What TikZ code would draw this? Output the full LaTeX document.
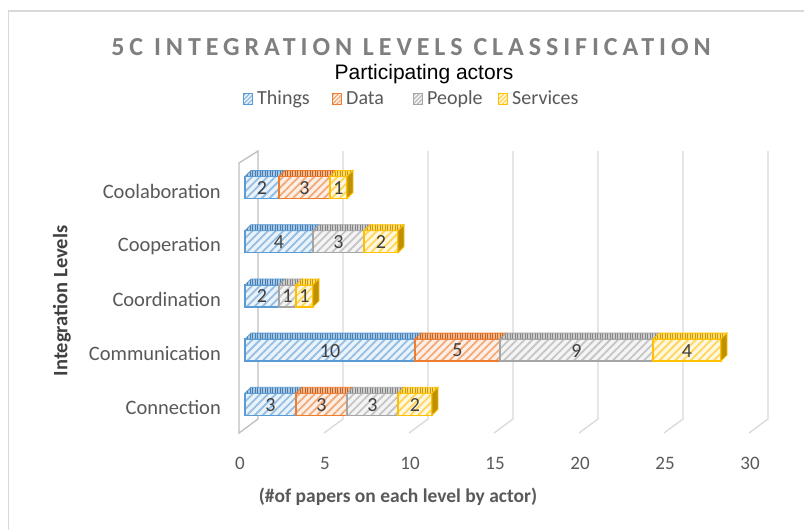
\documentclass[tikz,border=0pt]{standalone}
\usepackage{fontspec}
\setmainfont{Carlito}
\newfontfamily\arialfont{Liberation Sans}
\newfontfamily\titlefont[LetterSpace=19]{Carlito}
\usetikzlibrary{patterns.meta}
\definecolor{cThings}{HTML}{5B9BD5}
\definecolor{cData}{HTML}{ED7D31}
\definecolor{cPeople}{HTML}{A5A5A5}
\definecolor{cServ}{HTML}{FFC000}
\definecolor{txtgray}{HTML}{595959}
\definecolor{valgray}{HTML}{404040}
\definecolor{gridgray}{HTML}{D9D9D9}
\definecolor{wallgray}{HTML}{BFBFBF}
\definecolor{titlegray}{HTML}{7F7F7F}
\tikzset{
  gridline/.style={draw=gridgray, line width=1.3pt},
  wallline/.style={draw=wallgray, line width=1.3pt},
  catlabel/.style={anchor=base east, text=txtgray, font=\fontsize{20.5}{24}\selectfont, inner sep=0pt},
  ticklabel/.style={text=txtgray, font=\fontsize{19}{22}\selectfont, inner sep=0pt},
  vallabel/.style={text=valgray, font=\fontsize{20}{23}\selectfont, inner sep=0pt},
  legtext/.style={anchor=base west, text=txtgray, font=\fontsize{20}{23}\selectfont, inner sep=0pt},
}
% #1 colour, #2 v0, #3 v1, #4 y centre, #5 label, #6 node name
\newcommand\barseg[6]{%
  \pgfmathsetmacro\xa{245+17*#2}%
  \pgfmathsetmacro\xb{245+17*#3}%
  \fill[#1!12] (\xa,#4-11) rectangle (\xb,#4+11);
  \fill[pattern={Lines[angle=45,distance=5.5pt,line width=1.8pt]}, pattern color=#1!65] (\xa,#4-11) rectangle (\xb,#4+11);
  \draw[#1, line width=1.3pt] (\xa,#4-11) rectangle (\xb,#4+11);
  \fill[#1!55] (\xa,#4-11) -- (\xb,#4-11) -- (\xb+6,#4-17) -- (\xa+6,#4-17) -- cycle;
  \fill[pattern={Lines[angle=90,distance=2.5pt,line width=0.8pt]}, pattern color=#1!80!black] (\xa,#4-11) -- (\xb,#4-11) -- (\xb+6,#4-17) -- (\xa+6,#4-17) -- cycle;
  \draw[#1, line width=0.8pt] (\xa,#4-11) -- (\xb,#4-11) -- (\xb+6,#4-17) -- (\xa+6,#4-17) -- cycle;
  \node[vallabel] (#6) at ({(\xa+\xb)/2},#4+0.5) {#5};
}
% #1 colour, #2 v1, #3 y centre
\newcommand\barside[3]{%
  \pgfmathsetmacro\xb{245+17*#2}%
  \fill[#1!75!black] (\xb,#3-11) -- (\xb+6,#3-17) -- (\xb+6,#3+5) -- (\xb,#3+11) -- cycle;
  \draw[#1, line width=0.8pt] (\xb,#3-11) -- (\xb+6,#3-17) -- (\xb+6,#3+5) -- (\xb,#3+11) -- cycle;
}
% legend marker: #1 colour, #2 x centre
\newcommand\legmark[2]{%
  \fill[#1!12] (#2-4.5,93.5) rectangle (#2+4.5,104.5);
  \fill[pattern={Lines[angle=45,distance=3pt,line width=1.1pt]}, pattern color=#1!75] (#2-4.5,93.5) rectangle (#2+4.5,104.5);
  \draw[#1, line width=1.1pt] (#2-4.5,93.5) rectangle (#2+4.5,104.5);
}
\begin{document}
\begin{tikzpicture}[x=1pt,y=-1pt]
\useasboundingbox (0,0) rectangle (804,530);
\fill[white] (0,0) rectangle (804,530);
% chart border (top and left visible)
\draw[draw=gridgray, line width=1.2pt] (8.3,530) -- (8.3,11) -- (804,11);

% title
\node[text=titlegray, font=\titlefont\bfseries\fontsize{26}{31}\selectfont, inner sep=0pt] (title) at (411,47) {5C INTEGRATION LEVELS CLASSIFICATION};
\node[text=black, font=\arialfont\fontsize{21}{25}\selectfont, inner sep=0pt] (subtitle) at (424,74) {Participating actors};

% legend
\legmark{cThings}{248}
\node[legtext] (lThings) at (257,104.5) {Things};
\legmark{cData}{337}
\node[legtext] (lData) at (346,104.5) {Data};
\legmark{cPeople}{418}
\node[legtext] (lPeople) at (427,104.5) {People};
\legmark{cServ}{503}
\node[legtext] (lServ) at (512,104.5) {Services};

% gridlines on back wall and floor
\foreach \v in {5,10,...,30}{
  \draw[gridline] (258+17*\v,151) -- (258+17*\v,419) -- (239+17*\v,433);
}
% side wall
\draw[wallline] (258,151) -- (258,419) -- (239,433) -- (239,163) -- cycle;

% bars
% Coolaboration
\barseg{cThings}{0}{2}{187.5}{2}{b11}
\barseg{cData}{2}{5}{187.5}{3}{b12}
\barseg{cServ}{5}{6}{187.5}{1}{b14}
\barside{cServ}{6}{187.5}
% Cooperation
\barseg{cThings}{0}{4}{241.7}{4}{b21}
\barseg{cPeople}{4}{7}{241.7}{3}{b23}
\barseg{cServ}{7}{9}{241.7}{2}{b24}
\barside{cServ}{9}{241.7}
% Coordination
\barseg{cThings}{0}{2}{295.9}{2}{b31}
\barseg{cPeople}{2}{3}{295.9}{1}{b33}
\barseg{cServ}{3}{4}{295.9}{1}{b34}
\barside{cServ}{4}{295.9}
% Communication
\barseg{cThings}{0}{10}{350.1}{10}{b41}
\barseg{cData}{10}{15}{350.1}{5}{b42}
\barseg{cPeople}{15}{24}{350.1}{9}{b43}
\barseg{cServ}{24}{28}{350.1}{4}{b44}
\barside{cServ}{28}{350.1}
% Connection
\barseg{cThings}{0}{3}{404.3}{3}{b51}
\barseg{cData}{3}{6}{404.3}{3}{b52}
\barseg{cPeople}{6}{9}{404.3}{3}{b53}
\barseg{cServ}{9}{11}{404.3}{2}{b54}
\barside{cServ}{11}{404.3}

% category labels
\node[catlabel] (c1) at (221,198) {Coolaboration};
\node[catlabel] (c2) at (221,251.5) {Cooperation};
\node[catlabel] (c3) at (221,306) {Coordination};
\node[catlabel] (c4) at (221,360) {Communication};
\node[catlabel] (c5) at (221,414) {Connection};

% tick labels
\foreach \v/\n in {0/t0,5/t5,10/t10,15/t15,20/t20,25/t25,30/t30}{
  \node[ticklabel] (\n) at (240+17*\v,463) {\v};
}

% axis titles
\node[text=txtgray, font=\bfseries\fontsize{19.5}{23}\selectfont, inner sep=0pt] (xtitle) at (398,497) {(\#of papers on each level by actor)};
\node[text=valgray, font=\bfseries\fontsize{20.5}{24}\selectfont, inner sep=0pt, rotate=90] (ytitle) at (62,301) {Integration Levels};
\end{tikzpicture}
\end{document}
